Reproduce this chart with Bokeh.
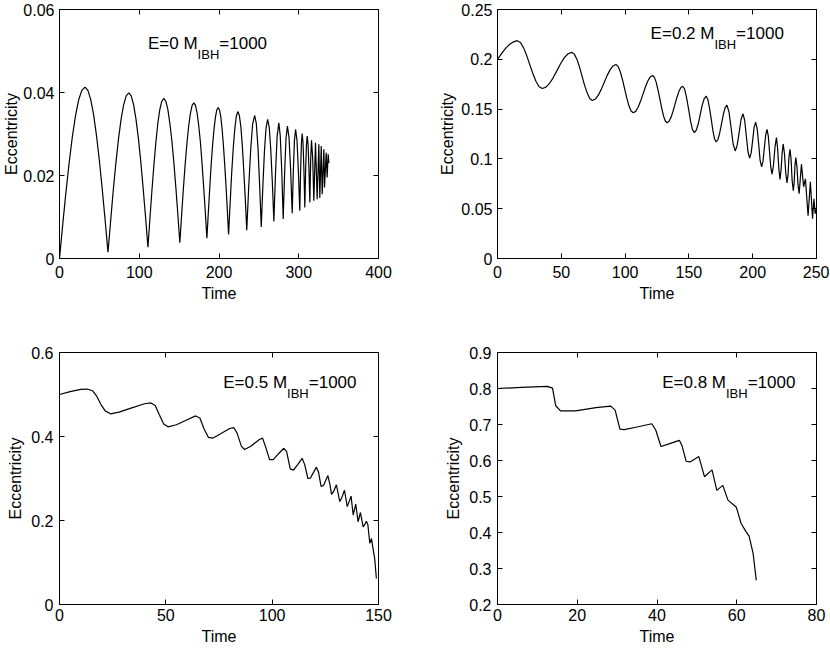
from bokeh.plotting import figure
from bokeh.models import LinearAxis, FixedTicker, Range1d, Label, CustomLabelingPolicy
from bokeh.layouts import column, row
from bokeh.embed import file_html
from bokeh.resources import INLINE

# ---------------- data ----------------
# Panel 1: E=0
t1 = [0, 4, 8, 12, 16, 20, 24, 28, 32.0, 35.6, 39.2, 42.8, 46.4, 50.0, 53.6, 57.2, 60.8,
      64.1, 67.3, 70.6, 73.9, 77.1, 80.4, 83.6, 86.9, 89.9, 92.9, 95.9, 98.9, 101.9, 104.9, 107.9, 110.9,
      113.4, 115.9, 118.4, 120.9, 123.3, 125.8, 128.3, 130.8, 133.3, 135.8, 138.3, 140.9, 143.4, 145.9, 148.4, 150.9,
      153.1, 155.3, 157.5, 159.7, 161.9, 164.1, 166.3, 168.5, 170.5, 172.6, 174.6, 176.7, 178.7, 180.7, 182.8, 184.8,
      186.6, 188.4, 190.1, 191.9, 193.7, 195.5, 197.2, 199.0, 200.6, 202.3, 203.9, 205.5, 207.1, 208.8, 210.4, 212.0,
      214.0, 215.9, 217.9, 219.9, 221.8, 223.8, 225.6, 227.5, 229.3, 231.1, 233.0, 234.8,
      237.3, 239.8, 242.2, 244.7, 246.8, 248.9, 250.9, 253.0,
      255.0, 257.0, 259.0, 261.0, 263.0, 264.9, 266.9, 268.8,
      270.9, 272.9, 275.0, 276.8, 278.7, 280.5,
      282.3, 284.0, 285.8, 287.8, 289.8, 291.8,
      293.2, 294.6, 296.0, 297.8, 299.5, 301.3,
      302.3, 303.3, 304.3, 305.4, 306.5, 307.6,
      308.6, 309.6, 310.6, 311.7, 312.8, 313.9,
      315.0, 316.0, 317.5, 318.9,
      321.0, 323.1, 325.2, 326.4, 328.2, 329.4, 331.5, 332.3, 334.4, 335.6, 336.9, 337.8]
e1 = [0.0, 0.0081, 0.0158, 0.0229, 0.0292, 0.0343, 0.0382, 0.0405, 0.0413, 0.0405, 0.0383, 0.0346, 0.0296, 0.0236, 0.0167, 0.0093, 0.0015,
      0.0090, 0.0162, 0.0228, 0.0287, 0.0334, 0.0370, 0.0392, 0.0399, 0.0392, 0.0371, 0.0336, 0.0290, 0.0234, 0.0169, 0.0100, 0.0027,
      0.0097, 0.0164, 0.0226, 0.0281, 0.0326, 0.0359, 0.0379, 0.0386, 0.0379, 0.0360, 0.0327, 0.0284, 0.0231, 0.0171, 0.0106, 0.0038,
      0.0104, 0.0167, 0.0225, 0.0276, 0.0318, 0.0349, 0.0369, 0.0375, 0.0369, 0.0350, 0.0320, 0.0280, 0.0230, 0.0174, 0.0113, 0.0049,
      0.0110, 0.0170, 0.0224, 0.0272, 0.0311, 0.0340, 0.0358, 0.0364, 0.0358, 0.0341, 0.0312, 0.0274, 0.0228, 0.0175, 0.0118, 0.0058,
      0.0135, 0.0206, 0.0267, 0.0314, 0.0344, 0.0354, 0.0344, 0.0316, 0.0270, 0.0211, 0.0142, 0.0068,
      0.0174, 0.0264, 0.0324, 0.0345, 0.0325, 0.0266, 0.0179, 0.0076,
      0.0175, 0.0259, 0.0315, 0.0335, 0.0316, 0.0263, 0.0183, 0.0089,
      0.0208, 0.0295, 0.0327, 0.0296, 0.0211, 0.0095,
      0.0207, 0.0289, 0.0319, 0.0291, 0.0214, 0.0109,
      0.0210, 0.0284, 0.0311, 0.0285, 0.0213, 0.0115,
      0.0208, 0.0276, 0.0301, 0.0277, 0.0212, 0.0123,
      0.0209, 0.0272, 0.0295, 0.0274, 0.0215, 0.0135,
      0.0241, 0.0285, 0.0241, 0.0139,
      0.0279, 0.0143, 0.0275, 0.0146, 0.0271, 0.0155, 0.0263, 0.0171, 0.0255, 0.0195, 0.0251, 0.0230]

# Panel 2: E=0.2
t2 = [0, 3, 6, 9, 12, 15.5,
      17.95, 20.4, 22.85, 25.3, 27.75, 30.2, 32.65, 35.1,
      38.0, 40.9, 43.8, 46.7, 49.5, 52.4, 55.3, 58.2,
      60.2, 62.3, 64.3, 66.3, 68.3, 70.4, 72.4, 74.4,
      76.7, 79.0, 81.3, 83.6, 85.9, 88.2, 90.5, 92.8,
      94.5, 96.2, 97.9, 99.6, 101.3, 103.0, 104.7, 106.4,
      108.3, 110.2, 112.1, 114.0, 115.9, 117.8, 119.7, 121.6,
      123.0, 124.4, 125.8, 127.3, 128.7, 130.1, 131.5, 132.9,
      134.4, 136.0, 137.5, 139.1, 140.6, 142.1, 143.7, 145.2,
      146.7, 148.2, 149.8, 151.3, 152.8, 154.3,
      155.8, 157.4, 158.9, 160.4, 162.0, 163.5,
      164.8, 166.1, 167.5, 168.8, 170.1, 171.4,
      172.8, 174.2, 175.6, 177.0, 178.4, 179.8,
      181.4, 183.1, 184.7, 186.3,
      187.8, 189.4, 190.9, 192.4,
      193.7, 195.0, 196.3, 197.6,
      198.8, 200.0, 201.1, 202.3,
      203.5, 204.7, 205.8, 207.0,
      208.1, 209.1, 210.2, 211.2,
      212.2, 213.2, 214.2, 215.2,
      216.3, 217.5, 218.6,
      219.5, 220.5, 221.4,
      222.2, 223.1, 223.9,
      224.9, 225.9, 226.9,
      227.7, 228.4, 229.2,
      230.1, 230.9, 231.8,
      232.5, 233.1, 233.8,
      234.7, 235.5, 236.4,
      237.3, 238.2, 239.9, 241.3, 243.4, 245.2, 246.9, 248.0, 249.0, 250.0]
e2 = [0.200, 0.2055, 0.2105, 0.2145, 0.2172, 0.2187,
      0.2169, 0.2117, 0.2039, 0.1947, 0.1855, 0.1777, 0.1725, 0.1707,
      0.1721, 0.1760, 0.1819, 0.1889, 0.1958, 0.2017, 0.2056, 0.2070,
      0.2052, 0.1999, 0.1921, 0.1828, 0.1736, 0.1658, 0.1605, 0.1587,
      0.1601, 0.1640, 0.1698, 0.1767, 0.1836, 0.1894, 0.1933, 0.1947,
      0.1929, 0.1876, 0.1798, 0.1705, 0.1612, 0.1534, 0.1481, 0.1463,
      0.1477, 0.1518, 0.1578, 0.1650, 0.1722, 0.1782, 0.1823, 0.1837,
      0.1819, 0.1768, 0.1691, 0.1600, 0.1509, 0.1432, 0.1381, 0.1363,
      0.1377, 0.1417, 0.1476, 0.1547, 0.1617, 0.1676, 0.1716, 0.1730,
      0.1699, 0.1613, 0.1497, 0.1380, 0.1294, 0.1263,
      0.1288, 0.1355, 0.1447, 0.1538, 0.1605, 0.1630,
      0.1599, 0.1515, 0.1400, 0.1285, 0.1201, 0.1170,
      0.1195, 0.1263, 0.1355, 0.1448, 0.1515, 0.1540,
      0.1473, 0.1310, 0.1147, 0.1080,
      0.1135, 0.1267, 0.1398, 0.1453,
      0.1388, 0.1230, 0.1072, 0.1007,
      0.1060, 0.1189, 0.1317, 0.1370,
      0.1304, 0.1145, 0.0986, 0.0920,
      0.0975, 0.1109, 0.1242, 0.1297,
      0.1231, 0.1072, 0.0913, 0.0847,
      0.0939, 0.1122, 0.1213,
      0.1109, 0.0900, 0.0795,
      0.0884, 0.1061, 0.1150,
      0.1053, 0.0858, 0.0760,
      0.0844, 0.1013, 0.1097,
      0.0993, 0.0784, 0.0680,
      0.0763, 0.0930, 0.1013,
      0.0922, 0.0741, 0.0650,
      0.0799, 0.0947, 0.0720, 0.0800, 0.0430, 0.0770, 0.0400, 0.0600, 0.0450, 0.0500]

# Panel 3: E=0.5
t3 = [0, 5, 10, 13, 15.5, 17.5, 19.5, 21.5, 24, 28,
      34, 40, 43, 45, 47, 49, 51, 55, 60, 64,
      66, 68, 70, 72, 76, 80, 82, 83.5, 85.5, 87,
      90, 94, 95.5, 97, 98.8, 100.5, 103, 105.5, 106.8, 108.5,
      110, 112, 114.1, 115.3, 116.8, 118, 120.8, 121.8, 123, 124.2,
      126.2, 127.2, 127.9, 129, 130.2, 131.8, 132.8, 134, 135.3, 136.2,
      137.1, 138.1, 139.3, 140.4, 141.5, 142.8, 143.5, 144.3, 145.0, 145.9,
      146.7, 147.3, 148.2, 149.0]
e3 = [0.500, 0.507, 0.512, 0.513, 0.509, 0.496, 0.476, 0.461, 0.454, 0.458,
      0.468, 0.478, 0.480, 0.474, 0.451, 0.430, 0.423, 0.428, 0.440, 0.449,
      0.444, 0.418, 0.398, 0.396, 0.407, 0.419, 0.421, 0.408, 0.377, 0.369,
      0.377, 0.393, 0.396, 0.374, 0.345, 0.345, 0.359, 0.372, 0.364, 0.323,
      0.320, 0.333, 0.348, 0.333, 0.300, 0.301, 0.327, 0.315, 0.281, 0.284,
      0.307, 0.285, 0.262, 0.270, 0.285, 0.245, 0.255, 0.272, 0.233, 0.245,
      0.258, 0.213, 0.239, 0.197, 0.219, 0.185, 0.190, 0.198, 0.190, 0.146,
      0.157, 0.137, 0.110, 0.062]

# Panel 4: E=0.8
t4 = [0, 6, 12.5, 13.8, 14.6, 15.8, 19.6, 24.7, 28.4, 29.5,
      30.7, 31.8, 35, 38.7, 39.7, 41, 43, 45.6, 46.3, 47.3,
      48.3, 50.5, 51.9, 53.8, 55.0, 56.5, 57.8, 59.9, 61.1, 62.4,
      63.1, 64.1, 64.9]
e4 = [0.800, 0.803, 0.806, 0.801, 0.752, 0.738, 0.738, 0.747, 0.751, 0.740,
      0.687, 0.686, 0.693, 0.702, 0.684, 0.639, 0.646, 0.656, 0.640, 0.598,
      0.596, 0.611, 0.555, 0.574, 0.517, 0.531, 0.490, 0.470, 0.425, 0.401,
      0.390, 0.342, 0.267]

# ticks and labels
x1_ticks = [0, 100, 200, 300, 400]
x1_labels = ["0", "100", "200", "300", "400"]
y1_ticks = [0, 0.02, 0.04, 0.06]
y1_labels = ["0", "0.02", "0.04", "0.06"]
x2_ticks = [0, 50, 100, 150, 200, 250]
x2_labels = ["0", "50", "100", "150", "200", "250"]
y2_ticks = [0, 0.05, 0.1, 0.15, 0.2, 0.25]
y2_labels = ["0", "0.05", "0.1", "0.15", "0.2", "0.25"]
x3_ticks = [0, 50, 100, 150]
x3_labels = ["0", "50", "100", "150"]
y3_ticks = [0, 0.2, 0.4, 0.6]
y3_labels = ["0", "0.2", "0.4", "0.6"]
x4_ticks = [0, 20, 40, 60, 80]
x4_labels = ["0", "20", "40", "60", "80"]
y4_ticks = [0.2, 0.3, 0.4, 0.5, 0.6, 0.7, 0.8, 0.9]
y4_labels = ["0.2", "0.3", "0.4", "0.5", "0.6", "0.7", "0.8", "0.9"]

ecc_values = ["0", "0.2", "0.5", "0.8"]
mass = "1000"

FONT = "Liberation Sans"
FS = "16px"

HIDE = CustomLabelingPolicy(code="""
for (const i of indices) indices.unset(i)
return indices
""")


def style_axis(ax, ticks, labels, show_labels, lstand=4, astand=2):
    ax.ticker = FixedTicker(ticks=ticks)
    ax.major_tick_in = 5
    ax.major_tick_out = 0
    ax.minor_tick_line_color = None
    ax.axis_line_color = "black"
    ax.major_tick_line_color = "black"
    ax.axis_line_width = 1
    if show_labels:
        ax.major_label_overrides = {float(v): s for v, s in zip(ticks, labels)}
        ax.major_label_text_font = FONT
        ax.major_label_text_font_size = FS
        ax.major_label_text_color = "black"
        ax.major_label_standoff = lstand
        ax.axis_label_text_font = FONT
        ax.axis_label_text_font_size = FS
        ax.axis_label_text_font_style = "normal"
        ax.axis_label_text_color = "black"
        ax.axis_label_standoff = astand
    else:
        ax.major_label_text_font_size = "0px"
        ax.major_label_standoff = 0
        ax.major_label_policy = HIDE


def panel(w, h, bl, br, bt, bb, t, e, xr, yr, xt, xl, yt, yl, ecc, ax_, ay_, wmain, xs, ys):
    p = figure(width=w, height=h, x_range=Range1d(*xr), y_range=Range1d(*yr),
               output_backend="svg", toolbar_location=None,
               min_border_left=bl, min_border_right=br,
               min_border_top=bt, min_border_bottom=bb,
               x_axis_label="Time", y_axis_label="Eccentricity")
    p.grid.visible = False
    p.outline_line_color = "black"
    p.background_fill_color = "white"
    p.border_fill_color = "white"
    style_axis(p.xaxis[0], xt, xl, True, xs[0], xs[1])
    style_axis(p.yaxis[0], yt, yl, True, ys[0], ys[1])
    top = LinearAxis()
    style_axis(top, xt, xl, False)
    p.add_layout(top, "above")
    right = LinearAxis()
    style_axis(right, yt, yl, False)
    p.add_layout(right, "right")
    p.line(t, e, line_color="black", line_width=1.2)
    p.add_layout(Label(x=ax_, y=ay_, y_offset=5, text="E=" + ecc + " M", text_font=FONT,
                       text_font_size="17px", text_color="black", text_baseline="alphabetic"))
    p.add_layout(Label(x=ax_, y=ay_, x_offset=wmain, y_offset=-6, text="IBH", text_font=FONT,
                       text_font_size="13px", text_color="black", text_baseline="alphabetic"))
    p.add_layout(Label(x=ax_, y=ay_, x_offset=wmain + 21.7, y_offset=5, text="=" + mass, text_font=FONT,
                       text_font_size="17px", text_color="black", text_baseline="alphabetic"))
    return p


p1 = panel(398, 330, 59, 20, 9, 72, t1, e1, (0, 400), (0, 0.06),
           x1_ticks, x1_labels, y1_ticks, y1_labels, ecc_values[0], 111, 0.0506, 49.6, (7, 4), (5, 0))
p2 = panel(431, 330, 99, 13, 9, 72, t2, e2, (0, 250), (0, 0.25),
           x2_ticks, x2_labels, y2_ticks, y2_labels, ecc_values[1], 120, 0.2207, 63.8, (7, 4), (5, 2))
p3 = panel(398, 318, 59, 20, 22, 44, t3, e3, (0, 150), (0, 0.6),
           x3_ticks, x3_labels, y3_ticks, y3_labels, ecc_values[2], 77, 0.516, 63.8, (4, 4), (6, 4))
p4 = panel(431, 318, 99, 13, 22, 44, t4, e4, (0, 80), (0.2, 0.9),
           x4_ticks, x4_labels, y4_ticks, y4_labels, ecc_values[3], 41.3, 0.8036, 63.8, (4, 4), (6, 4))

layout = column(row(p1, p2), row(p3, p4))
open("out.html", "w").write(file_html(layout, INLINE))
